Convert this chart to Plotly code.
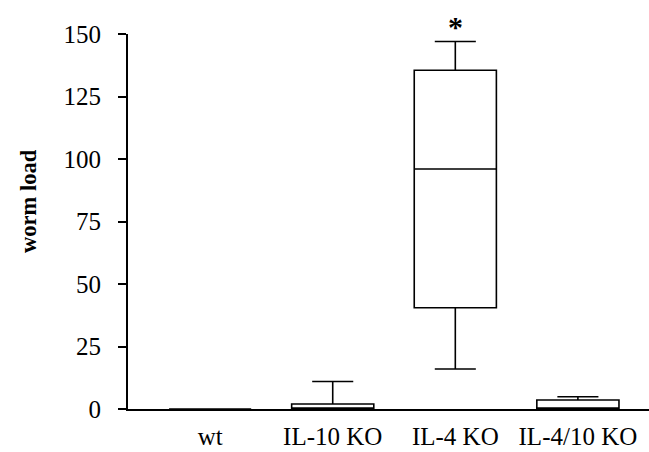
import plotly.graph_objects as go

categories = ["wt", "IL-10 KO", "IL-4 KO", "IL-4/10 KO"]
q1 = [0, 0, 40.5, 0]
median = [0, 0, 96, 0]
q3 = [0, 2, 135.5, 3.6]
lowerfence = [0, 0, 16, 0]
upperfence = [0, 11, 147, 4.9]
yticks = [0, 25, 50, 75, 100, 125, 150]

FONT = "Liberation Serif, Times New Roman, serif"

fig = go.Figure()
fig.add_trace(go.Box(
    x=list(range(len(categories))),
    q1=q1, median=median, q3=q3,
    lowerfence=lowerfence, upperfence=upperfence,
    width=0.67, whiskerwidth=0.5,
    fillcolor="white",
    line=dict(color="black", width=1.6),
    boxpoints=False,
    showlegend=False,
    hoverinfo="skip",
))

fig.add_annotation(x=2, y=147, xref="x", yref="y", text="<b>*</b>",
                   showarrow=False, yanchor="bottom", yshift=-3,
                   font=dict(family=FONT, size=30, color="black"))

fig.add_annotation(x=-0.19, y=0.555, xref="paper", yref="paper",
                   text="<b>worm load</b>", textangle=-90, showarrow=False,
                   xanchor="center", yanchor="middle",
                   font=dict(family=FONT, size=22.5, color="black"))

fig.update_layout(
    width=649, height=452,
    margin=dict(l=128, r=0, t=34, b=43),
    paper_bgcolor="white", plot_bgcolor="white",
    font=dict(family=FONT, color="black", size=22),
)
fig.update_xaxes(
    range=[-0.67, 3.58],
    tickvals=list(range(len(categories))), ticktext=categories,
    showline=True, linecolor="black", linewidth=2,
    showgrid=False, zeroline=False, ticks="",
    ticklabelstandoff=4,
    tickfont=dict(family=FONT, size=25),
)
fig.update_yaxes(
    range=[0, 150], tickvals=yticks,
    showline=True, linecolor="black", linewidth=2,
    showgrid=False, zeroline=False,
    ticks="outside", ticklen=8, tickwidth=1.5, tickcolor="black",
    ticklabelstandoff=12,
    tickfont=dict(family=FONT, size=25),
)

fig.write_html("out.html")
